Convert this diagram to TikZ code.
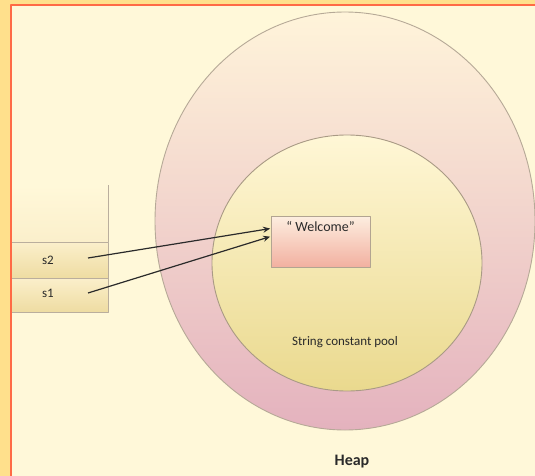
\documentclass[tikz,border=0pt]{standalone}
\usepackage{fontspec}
\setmainfont{Carlito}
\usetikzlibrary{arrows.meta,positioning,calc}
\definecolor{frame}{HTML}{FFE08C}
\definecolor{paper}{HTML}{FFF8D9}
\definecolor{rim}{HTML}{FF6A45}
\definecolor{ink}{HTML}{2A2A2A}
\definecolor{edge}{HTML}{A99A85}
\definecolor{heaptop}{HTML}{FFF4DA}
\definecolor{heapmid}{HTML}{F9DCD2}
\definecolor{heapbot}{HTML}{E4B2BE}
\definecolor{pooltop}{HTML}{FFF7D6}
\definecolor{poolbot}{HTML}{EAD98E}
\definecolor{celltop}{HTML}{FBEFCB}
\definecolor{cellbot}{HTML}{EEDCA2}
\definecolor{boxtop}{HTML}{FDEEE0}
\definecolor{boxbot}{HTML}{F2B0A0}

\begin{document}
\begin{tikzpicture}[
  x=1pt, y=-1pt, >=Stealth, line join=round,
  lbl/.style={font=\fontsize{13}{15}\selectfont, text=ink},
  cell/.style={draw=edge!80, line width=0.8pt, top color=celltop, bottom color=cellbot},
  strbox/.style={draw=edge!90, line width=0.8pt, top color=boxtop, bottom color=boxbot,
    minimum width=99pt, minimum height=51pt, inner sep=0pt},
  ref/.style={-{Stealth[length=7pt, width=6pt]}, ink, line width=1.2pt, shorten >=0.5pt},
  heapttl/.style={font=\fontsize{16}{18}\selectfont\bfseries, text=ink}]

\useasboundingbox (0,0) rectangle (535,476);

% ============================================== page and frame
\fill[frame] (0,0) rectangle (535,476);
\fill[paper] (11,5) rectangle (535,476);

% ============================================== heap and the pool inside it
\draw[edge!85, line width=0.9pt, top color=heaptop, middle color=heapmid, bottom color=heapbot]
  (345,221) ellipse [x radius=190, y radius=209];
\draw[edge, line width=0.9pt, top color=pooltop, bottom color=poolbot]
  (347,263) ellipse [x radius=135, y radius=128];
\node[lbl] (pool) at (345,342) {String constant pool};
\node[heapttl] (heap) at (352,462) {Heap};

% the literal
\node[strbox] (welcome) at (320.5,241.5) {};
\node[lbl, font=\fontsize{14}{16}\selectfont, below=2pt of welcome.north] (wtext) {“ Welcome”};

% ============================================== stack
\fill[top color=paper, bottom color=celltop] (11,185) rectangle (108,242);
\draw[edge!80, line width=0.8pt] (108,185) -- (108,242);
\draw[cell] (11,242) rectangle (108,278);
\draw[cell] (11,278) rectangle (108,312);
\node[lbl] (s2) at (48,260) {s2};
\node[lbl] (s1) at (48,293) {s1};

% references into the pool
\coordinate (s2tail) at (88,258);
\coordinate (s1tail) at (88,293);
\draw[ref] (s2tail) -- ([yshift=13pt]welcome.west);
\draw[ref] (s1tail) -- ([yshift=5pt]welcome.west);

% ---------------------------------------------------------------- rim
\draw[rim, line width=2pt] (11,476) -- (11,5) -- (535,5);

\end{tikzpicture}
\end{document}
